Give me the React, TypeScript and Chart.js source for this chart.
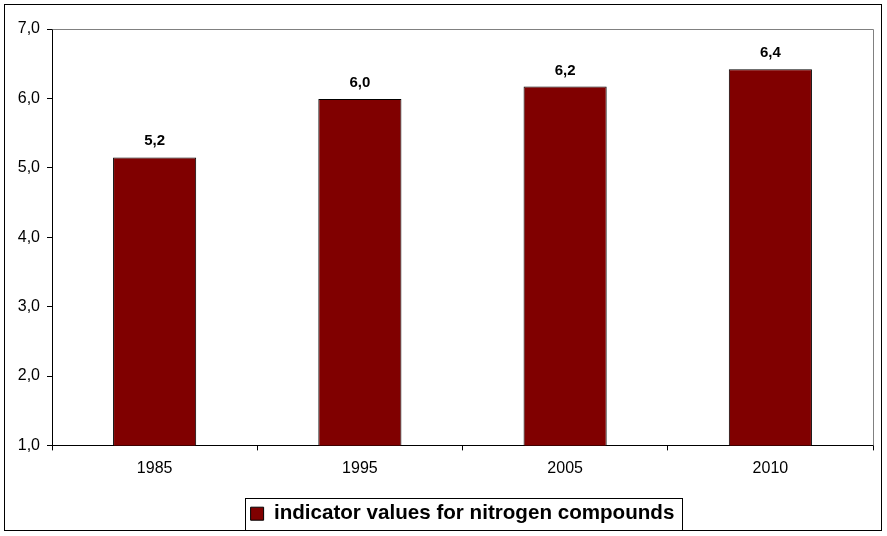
import React, { useEffect, useRef } from "react";
import { Chart, registerables } from "chart.js";

Chart.register(...registerables);

const categories = ["1985", "1995", "2005", "2010"];
const seriesLabel = "indicator values for nitrogen compounds";
const seriesValues = [5.15, 5.99, 6.17, 6.42];
const yMin = 1;
const yMax = 7;

const FONT = "'Liberation Sans', Arial, sans-serif";
const fmt = (v: number) => (Math.round(v * 10 + 1e-9) / 10).toFixed(1).replace(".", ",");

const decorPlugin = {
  id: "decor",
  afterDraw(chart: any) {
    const ctx = chart.ctx;
    const { left, right, top, bottom } = chart.chartArea;
    ctx.save();
    ctx.strokeStyle = "#808080";
    ctx.lineWidth = 1;
    ctx.beginPath();
    ctx.moveTo(Math.round(left) + 0.5, Math.round(top) + 0.5);
    ctx.lineTo(Math.round(right) + 0.5, Math.round(top) + 0.5);
    ctx.lineTo(Math.round(right) + 0.5, Math.round(bottom) + 0.5);
    ctx.stroke();
    ctx.strokeStyle = "#000";
    ctx.strokeRect(4.5, 4.5, 877, 526);
    const hb = chart.legend && chart.legend.legendHitBoxes && chart.legend.legendHitBoxes[0];
    if (hb) {
      const cy = hb.top + hb.height / 2;
      const l = Math.round(hb.left - 6) + 0.5;
      const r = Math.round(hb.left + hb.width + 8) + 0.5;
      const t = Math.round(cy - 16) + 0.5;
      const b = Math.round(cy + 16) + 0.5;
      ctx.strokeRect(l, t, r - l, b - t);
    }
    ctx.restore();
  },
  afterDatasetsDraw(chart: any) {
    const ctx = chart.ctx;
    const meta = chart.getDatasetMeta(0);
    const data = chart.data.datasets[0].data as number[];
    ctx.save();
    ctx.fillStyle = "#000";
    ctx.font = `bold 15px ${FONT}`;
    ctx.textAlign = "center";
    ctx.textBaseline = "alphabetic";
    meta.data.forEach((el: any, i: number) => {
      ctx.fillText(fmt(data[i]), el.x, el.y - 12);
    });
    ctx.restore();
  },
};

export default function App() {
  const ref = useRef<HTMLCanvasElement | null>(null);
  useEffect(() => {
    if (!ref.current) return;
    const chart = new Chart(ref.current, {
      type: "bar",
      data: {
        labels: categories,
        datasets: [
          {
            label: seriesLabel,
            data: seriesValues,
            backgroundColor: "#800000",
            borderColor: "#000000",
            borderWidth: 1,
            categoryPercentage: 1,
            barPercentage: 0.405,
          },
        ],
      },
      options: {
        animation: false,
        responsive: false,
        maintainAspectRatio: false,
        layout: { padding: { left: 0, right: 14, top: 29, bottom: 2 } },
        plugins: {
          tooltip: { enabled: false },
          legend: {
            display: true,
            position: "bottom",
            fullSize: false,
            onClick: () => {},
            labels: {
              color: "#000",
              font: { family: FONT, size: 20.6, weight: "bold" },
              boxWidth: 13,
              boxHeight: 13,
              padding: 10,
            },
          },
        },
        scales: {
          x: {
            afterFit: (s: any) => {
              s.height = 48;
            },
            grid: {
              display: true,
              offset: true,
              drawOnChartArea: false,
              drawTicks: true,
              tickLength: 5,
              color: "#000",
            },
            border: { display: true, color: "#000", width: 1 },
            ticks: {
              color: "#000",
              font: { family: FONT, size: 16 },
              padding: 9,
            },
          },
          y: {
            min: yMin,
            max: yMax,
            afterFit: (s: any) => {
              s.width = 52;
            },
            grid: {
              display: true,
              drawOnChartArea: false,
              drawTicks: true,
              tickLength: 5,
              color: "#000",
            },
            border: { display: true, color: "#000", width: 1 },
            ticks: {
              stepSize: 1,
              color: "#000",
              font: { family: FONT, size: 16 },
              padding: 7,
              callback: (v: any) => fmt(Number(v)),
            },
          },
        },
      },
      plugins: [decorPlugin],
    });
    return () => chart.destroy();
  }, []);
  return (
    <div style={{ position: "fixed", left: 0, top: 0, width: 887, height: 536, background: "#fff" }}>
      <canvas ref={ref} width={887} height={536} style={{ width: 887, height: 536 }} />
    </div>
  );
}
